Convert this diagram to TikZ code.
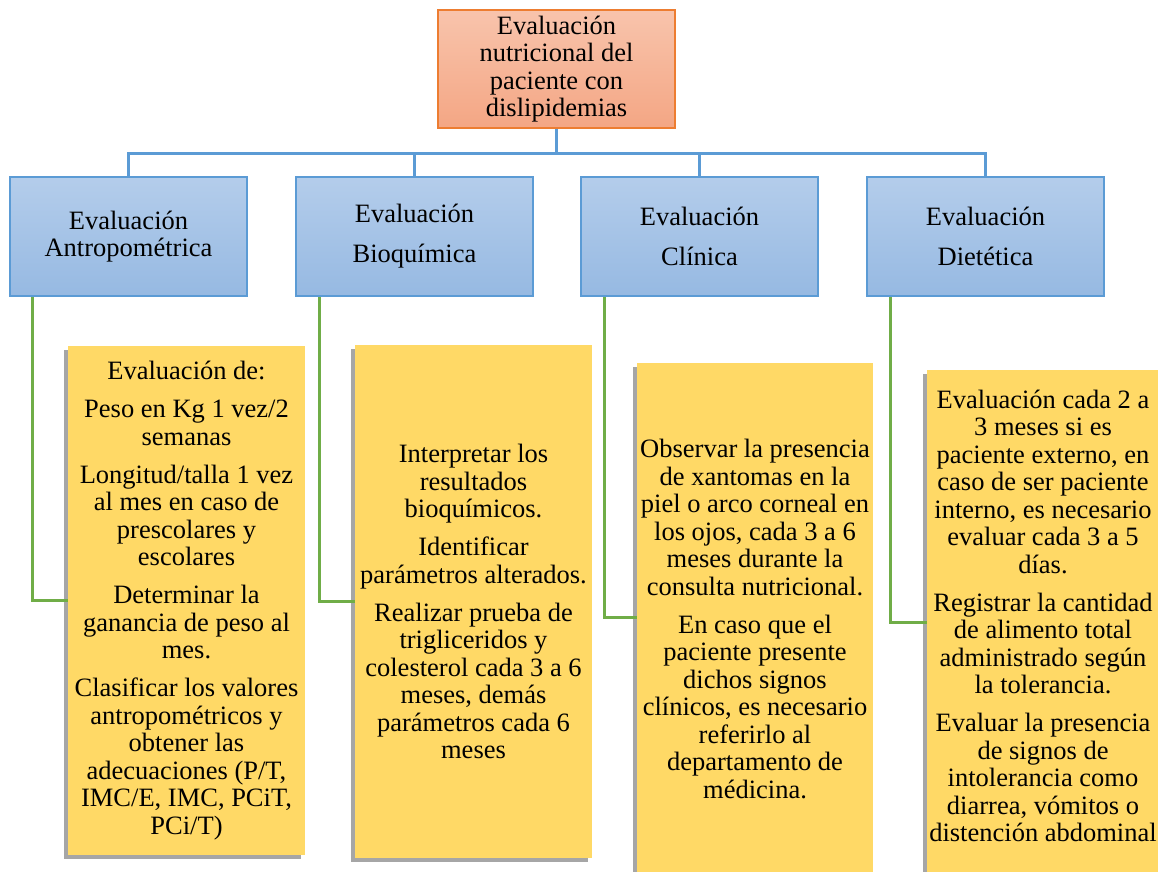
\documentclass[tikz,border=0pt]{standalone}
\usepackage{fontspec}
\setmainfont{Liberation Serif}
\usetikzlibrary{shadows}
\definecolor{orA}{RGB}{248,196,172}
\definecolor{orB}{RGB}{244,166,132}
\definecolor{orline}{RGB}{237,125,49}
\definecolor{blA}{RGB}{180,205,235}
\definecolor{blB}{RGB}{150,185,226}
\definecolor{bline}{RGB}{91,155,213}
\definecolor{yel}{RGB}{255,217,102}
\definecolor{grn}{RGB}{112,173,71}
\begin{document}
\begin{tikzpicture}[x=1pt,y=-1pt,
  every node/.style={font=\fontsize{26.5}{27.5}\selectfont, align=center, inner sep=0pt},
  topbox/.style={draw=orline, line width=1.5pt, top color=orA, bottom color=orB,
    minimum width=237pt, minimum height=118pt},
  bluebox/.style={draw=bline, line width=1.5pt, top color=blA, bottom color=blB,
    minimum width=237pt, minimum height=119pt},
  ybox/.style={fill=yel, drop shadow={shadow xshift=-4pt, shadow yshift=-4pt, fill=black!35, opacity=1}},
  bus/.style={draw=bline, line width=3pt},
  gline/.style={draw=grn, line width=3pt}]
\useasboundingbox (0,0) rectangle (1158,871);
\fill[white] (0,0) rectangle (1158,871);

% top
\node[topbox] (top) at (556.5,69) {Evaluación\\nutricional del\\paciente con\\dislipidemias};

% level 2
\node[bluebox] (b1) at (128.5,236.5) {Evaluación\\Antropométrica};
\node[bluebox] (b2) at (414.5,236.5) {Evaluación\\[12.5pt]Bioquímica};
\node[bluebox] (b3) at (699.5,236.5) {Evaluación\\[12.5pt]Clínica};
\node[bluebox] (b4) at (985.5,236.5) {Evaluación\\[12.5pt]Dietética};

% bus
\draw[bus] (top.south) -- ++(0,25) -| (b1.north);
\draw[bus] (top.south) -- ++(0,25) -| (b2.north);
\draw[bus] (top.south) -- ++(0,25) -| (b3.north);
\draw[bus] (top.south) -- ++(0,25) -| (b4.north);

% yellow boxes
\node[ybox, minimum width=237pt, minimum height=509pt] (y1) at (186.5,600.5)
 {Evaluación de:\\[10.5pt]
  Peso en Kg 1 vez/2\\semanas\\[10.5pt]
  Longitud/talla 1 vez\\al mes en caso de\\prescolares y\\escolares\\[10.5pt]
  Determinar la\\ganancia de peso al\\mes.\\[10.5pt]
  Clasificar los valores\\antropométricos y\\obtener las\\adecuaciones (P/T,\\IMC/E, IMC, PCiT,\\PCi/T)};
\node[ybox, minimum width=237pt, minimum height=513pt] (y2) at (473.5,601.5)
 {Interpretar los\\resultados\\bioquímicos.\\[10.5pt]
  Identificar\\parámetros alterados.\\[10.5pt]
  Realizar prueba de\\trigliceridos y\\colesterol cada 3 a 6\\meses, demás\\parámetros cada 6\\meses};
\node[ybox, anchor=north, minimum width=236pt, minimum height=540pt] (y3) at (755,363) {};
\node (t3) at (755,619)
 {Observar la presencia\\de xantomas en la\\piel o arco corneal en\\los ojos, cada 3 a 6\\meses durante la\\consulta nutricional.\\[10.5pt]
  En caso que el\\paciente presente\\dichos signos\\clínicos, es necesario\\referirlo al\\departamento de\\médicina.};
\node[ybox, anchor=north, minimum width=232pt, minimum height=540pt] (y4) at (1043,370) {};
\node (t4) at (1043,616)
 {Evaluación cada 2 a\\3 meses si es\\paciente externo, en\\caso de ser paciente\\interno, es necesario\\evaluar cada 3 a 5\\días.\\[10.5pt]
  Registrar la cantidad\\de alimento total\\administrado según\\la tolerancia.\\[10.5pt]
  Evaluar la presencia\\de signos de\\intolerancia como\\diarrea, vómitos o\\distención abdominal};

% green connectors
\draw[gline] (b1.south west) ++(23,0) |- (y1.west);
\draw[gline] (b2.south west) ++(24,0) |- (y2.west);
\draw[gline] (b3.south west) ++(24,0) |- ([yshift=-254pt]y3.north west);
\draw[gline] (b4.south west) ++(24,0) |- ([yshift=-252pt]y4.north west);
\end{tikzpicture}
\end{document}
